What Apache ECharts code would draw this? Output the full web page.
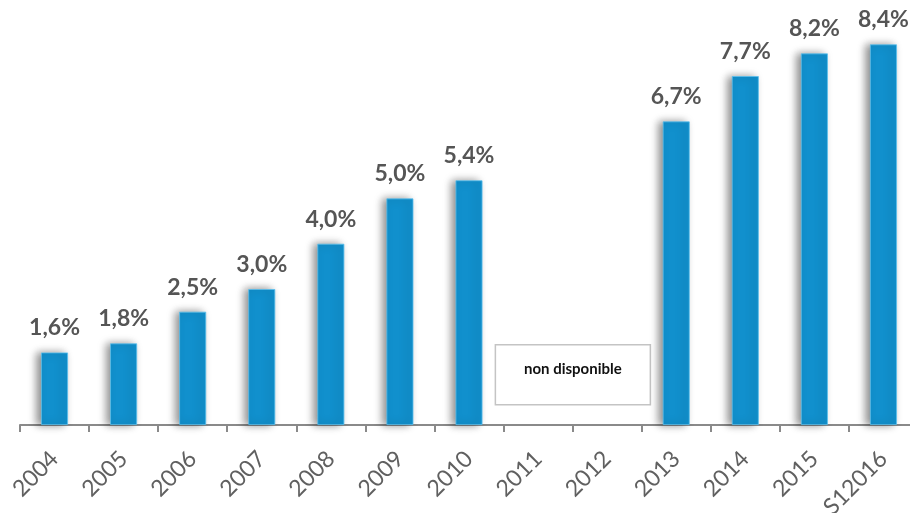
<!DOCTYPE html>
<html lang="fr">
<head>
    <meta charset="UTF-8">
    <title>Taux</title>
    <style>
        html, body { margin: 0; padding: 0; background: #fff; }
        #chart1 { width: 910px; height: 513px; }
    </style>
</head>
<body>
<div id="chart1"></div>
<script src="https://cdn.jsdelivr.net/npm/echarts@6/dist/echarts.min.js"></script>
<script type="text/javascript">
    var years = ['2004', '2005', '2006', '2007', '2008', '2009', '2010', '2011', '2012', '2013', '2014', '2015', 'S12016'];
    var rates = [1.6, 1.8, 2.5, 3.0, 4.0, 5.0, 5.4, null, null, 6.7, 7.7, 8.2, 8.4];
    var missingNote = 'non disponible';

    var chart1 = echarts.init(document.getElementById('chart1'));

    function fmt(v) {
        return v.toFixed(1).replace('.', ',') + '%';
    }

    chart1.setOption({
        animation: false,
        grid: {left: 20, width: 898, top: 0, bottom: 88, containLabel: false, outerBoundsMode: 'none'},
        xAxis: {
            type: 'category',
            data: years,
            axisLine: {lineStyle: {color: '#8a8a8a', width: 2}},
            axisTick: {show: true, length: 7, lineStyle: {color: '#8a8a8a', width: 2}},
            axisLabel: {
                rotate: 45,
                margin: 30,
                fontSize: 23,
                fontFamily: 'Lato',
                color: '#606060'
            }
        },
        yAxis: {
            type: 'value',
            min: 0,
            max: 9.38,
            show: false,
            splitLine: {show: false}
        },
        series: [{
            type: 'bar',
            data: rates,
            barWidth: '39%',
            itemStyle: {
                color: '#1190cd',
                borderColor: '#5cc0ee',
                borderWidth: 0.8,
                shadowColor: 'rgba(0,0,0,0.45)',
                shadowBlur: 8,
                shadowOffsetX: -4,
                shadowOffsetY: 0
            },
            label: {
                show: true,
                position: 'top',
                distance: 13,
                fontSize: 23,
                fontWeight: 'bold',
                fontFamily: 'Lato',
                color: '#555555',
                formatter: function (p) { return fmt(p.value); }
            }
        }]
    });

    // boîte "non disponible" centrée entre 2011 et 2012
    var p1 = chart1.convertToPixel({xAxisIndex: 0}, '2011');
    var p2 = chart1.convertToPixel({xAxisIndex: 0}, '2012');
    var cx = (p1 + p2) / 2;
    chart1.setOption({
        graphic: [{
            type: 'group',
            left: cx - 78,
            top: 344,
            children: [{
                type: 'rect',
                shape: {x: 0, y: 0, width: 155, height: 60},
                style: {fill: '#fff', stroke: '#c4c4c4', lineWidth: 1.5}
            }, {
                type: 'text',
                x: 77.5,
                y: 24,
                style: {
                    text: missingNote,
                    align: 'center',
                    verticalAlign: 'middle',
                    fontSize: 15,
                    fontWeight: 'bold',
                    fontFamily: 'Lato',
                    fill: '#111'
                }
            }]
        }]
    });
</script>
</body>
</html>
